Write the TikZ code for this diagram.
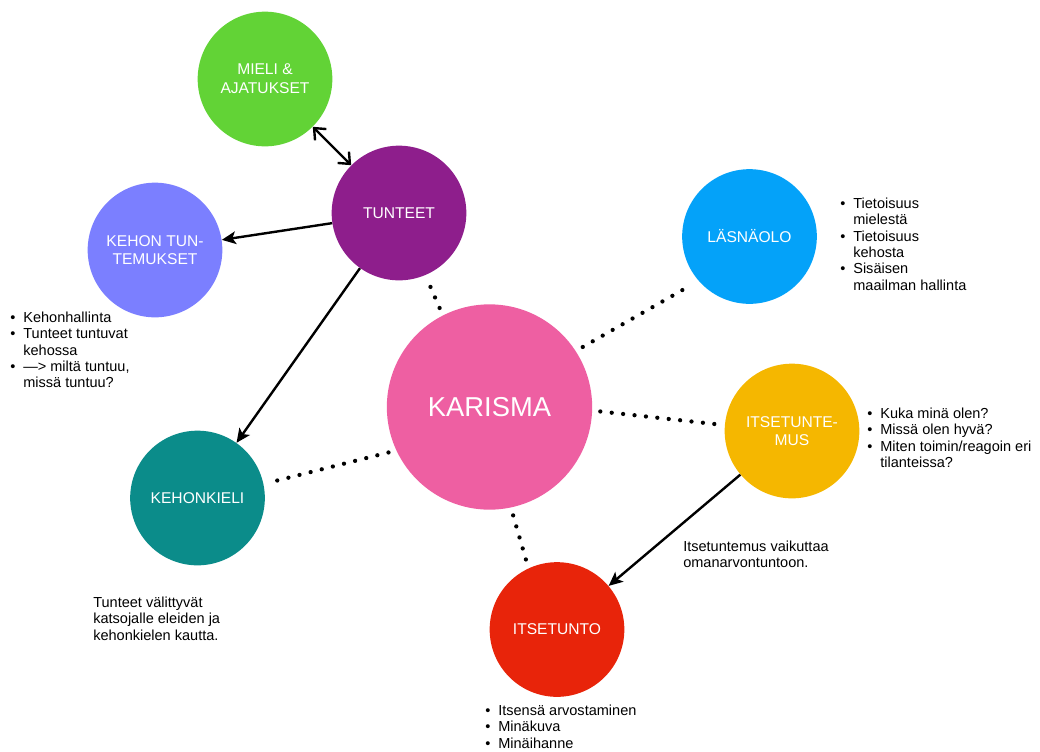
\documentclass[tikz,border=0pt]{standalone}
\usepackage{fontspec}
\setmainfont{Liberation Sans}
\usetikzlibrary{shapes,arrows.meta,positioning,calc}
\usepackage{xcolor}

\definecolor{mieliGreen}{HTML}{62D336}
\definecolor{tunteetPurple}{HTML}{8E1E8C}
\definecolor{kehonBlue}{HTML}{7B7FFF}
\definecolor{lasnaBlue}{HTML}{04A2F9}
\definecolor{karismaPink}{HTML}{EE5FA2}
\definecolor{itseYellow}{HTML}{F5B700}
\definecolor{kieliTeal}{HTML}{0B8C8A}
\definecolor{itsetuntoRed}{HTML}{E8240A}

\newcommand{\bul}{\makebox[9.8pt][l]{\textbullet}}
\newcommand{\ind}{\hspace*{9.8pt}}

\begin{document}
\begin{tikzpicture}[
    x=0.75pt, y=-0.75pt,
    topic/.style={circle, minimum size=101pt, inner sep=0pt, text=white, align=center, font=\fontsize{11.7}{14}\selectfont},
    core/.style={circle, minimum size=154pt, inner sep=0pt, text=white, font=\fontsize{20.5}{24}\selectfont},
    note/.style={anchor=north west, inner sep=0pt, align=left, font=\fontsize{10.9}{12.3}\selectfont},
    arrow/.style={-{Stealth[length=10.5pt, width=9.5pt, inset=2.5pt]}, line width=1.8pt},
    twoway/.style={{Straight Barb[length=7pt, width=12pt]}-{Straight Barb[length=7pt, width=12pt]}, line width=1.8pt},
    dots/.style={line width=3.2pt, line cap=round, dash pattern=on 0pt off 8.6pt, shorten <=6pt, shorten >=6pt}
]
\useasboundingbox (0,0) rectangle (1040,751);

% Centre
\node[core, fill=karismaPink] (karisma) at (489.5,407) {KARISMA};

% Topics
\node[topic, fill=mieliGreen] (mieli) at (265,79) {MIELI \&\\AJATUKSET};
\node[topic, fill=tunteetPurple] (tunteet) at (399,213) {TUNTEET};
\node[topic, fill=kehonBlue] (kehon) at (155,250) {KEHON TUN-\\TEMUKSET};
\node[topic, fill=lasnaBlue] (lasnaolo) at (749.5,236.5) {LÄSNÄOLO};
\node[topic, fill=itseYellow] (itsetuntemus) at (792,431) {ITSETUNTE-\\MUS};
\node[topic, fill=kieliTeal] (kehonkieli) at (197.5,498) {KEHONKIELI};
\node[topic, fill=itsetuntoRed] (itsetunto) at (557,629.5) {ITSETUNTO};

% Dotted links to the centre
\draw[dots] (karisma.117) -- (tunteet.-67);
\draw[dots] (karisma.33) -- (lasnaolo.221);
\draw[dots] (karisma.-2) -- (itsetuntemus.175);
\draw[dots] (karisma.205) -- (kehonkieli.12);
\draw[dots] (karisma.-78) -- (itsetunto.115);

% Arrows
\draw[twoway] (mieli) -- (tunteet);
\draw[arrow] (tunteet) -- (kehon);
\draw[arrow] (tunteet) -- (kehonkieli);
\draw[arrow] (itsetuntemus) -- (itsetunto);

% Notes
\node[note] (kehonNote) at (10,311.5) {\bul Kehonhallinta\\\bul Tunteet tuntuvat\\\ind kehossa\\\bul —> miltä tuntuu,\\\ind missä tuntuu?};
\node[note] (lasnaNote) at (840,197.5) {\bul Tietoisuus\\\ind mielestä\\\bul Tietoisuus\\\ind kehosta\\\bul Sisäisen\\\ind maailman hallinta};
\node[note] (itseNote) at (867,407.5) {\bul Kuka minä olen?\\\bul Missä olen hyvä?\\\bul Miten toimin/reagoin eri\\\ind tilanteissa?};
\node[note] (kieliNote) at (93,596.5) {Tunteet välittyvät\\katsojalle eleiden ja\\kehonkielen kautta.};
\node[note] (arrowNote) at (683,540.5) {Itsetuntemus vaikuttaa\\omanarvontuntoon.};
\node[note] (tuntoNote) at (485,704.5) {\bul Itsensä arvostaminen\\\bul Minäkuva\\\bul Minäihanne};

\end{tikzpicture}
\end{document}
